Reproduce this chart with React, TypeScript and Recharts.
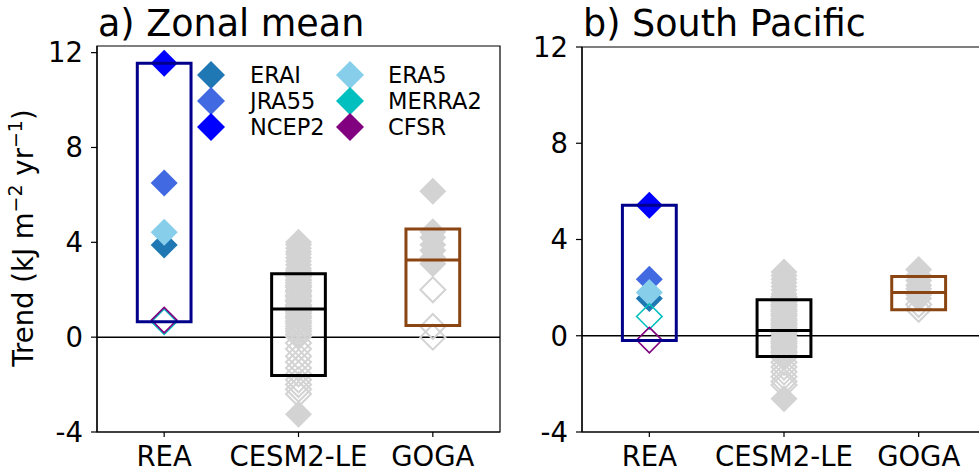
import React from "react";
import { ComposedChart, Scatter, XAxis, YAxis, ReferenceArea, ReferenceLine, Legend } from "recharts";

const FONT = "'DejaVu Sans', sans-serif";

const categories = ["REA", "CESM2-LE", "GOGA"];
const yTicks = [-4, 0, 4, 8, 12];

const reaNames = ["ERAI", "JRA55", "NCEP2", "ERA5", "MERRA2", "CFSR"];
const reaColors = ["#1f77b4", "#4169e1", "#0000ff", "#87ceeb", "#00bfbf", "#800080"];

// a) Zonal mean
const reaZonal = [3.89, 6.5, 11.55, 4.42, 0.65, 0.72];
const reaZonalSig = [true, true, true, true, false, false];
const cesmZonalFilled = [4.0, 3.9, 3.75, 3.6, 3.5, 3.35, 3.2, 3.05, 2.9, 2.8, -3.25];
const cesmZonalHollow = [
  2.72, 2.6, 2.55, 2.41, 2.3, 2.18, 2.1, 1.98, 1.9, 1.77, 1.7, 1.58, 1.5, 1.37, 1.28, 1.2, 1.08,
  1.0, 0.88, 0.8, 0.67, 0.58, 0.46, 0.35, 0.25, 0.12, 0.03, -0.25, -0.5, -0.8, -1.05, -1.3,
  -1.55, -1.8, -2.0, -2.2, -2.4,
];
const gogaZonalFilled = [6.15, 4.45, 4.2, 3.9, 3.65, 3.35, 3.1];
const gogaZonalHollow = [2.0, 0.45, 0.0];
const boxLowZonal = [0.65, -1.62, 0.49];
const boxHighZonal = [11.55, 2.67, 4.56];
const boxMidZonal = [null, 1.19, 3.25];

// b) South Pacific
const reaPacific = [1.55, 2.35, 5.42, 1.8, 0.8, -0.18];
const reaPacificSig = [true, true, true, true, false, false];
const cesmPacificFilled = [2.65, 2.5, 2.35, 2.2, 2.05, 1.9, 1.75, -2.62];
const cesmPacificHollow = [
  1.62, 1.5, 1.41, 1.3, 1.22, 1.1, 1.02, 0.9, 0.83, 0.71, 0.63, 0.52, 0.44, 0.33, 0.25, 0.14,
  0.06, -0.05, -0.13, -0.24, -0.32, -0.43, -0.51, -0.62, -0.7, -0.81, -0.9, -1.1, -1.3, -1.5,
  -1.7, -1.9, -2.05,
];
const gogaPacificFilled = [2.75, 2.5, 2.3, 2.1, 1.95, 1.8, 1.7, 1.55];
const gogaPacificHollow = [1.3, 1.1];
const boxLowPacific = [-0.2, -0.86, 1.08];
const boxHighPacific = [5.42, 1.5, 2.46];
const boxMidPacific = [null, 0.22, 1.8];

const boxColors = ["#00008b", "#000000", "#8b4513"];
const GRAY = "#d3d3d3";
const HALF = 0.2;
const TICK_FONT = 27.5;

const diamond = (color: string, filled: boolean, r = 13.5, sw = 1.6) => (props: any) => {
  const { cx, cy } = props;
  if (cx == null || cy == null) return <g />;
  const rr = filled ? r : r - sw / 2;
  return (
    <path
      d={`M${cx},${cy - rr}L${cx + rr},${cy}L${cx},${cy + rr}L${cx - rr},${cy}Z`}
      fill={filled ? color : "none"}
      stroke={filled ? "none" : color}
      strokeWidth={sw}
    />
  );
};

function LegendBox() {
  const rows = [20, 46, 72];
  return (
    <svg width={300} height={92} style={{ display: "block", overflow: "visible" }}>
      {reaNames.map((name, i) => {
        const col = Math.floor(i / 3);
        const cx = col === 0 ? 21 : 160;
        const tx = col === 0 ? 60 : 198;
        const cy = rows[i % 3];
        return (
          <g key={name}>
            <path d={`M${cx},${cy - 14}L${cx + 14},${cy}L${cx},${cy + 14}L${cx - 14},${cy}Z`} fill={reaColors[i]} />
            <text x={tx} y={cy + 8} fontSize={22.5} fontFamily={FONT} fill="#000">
              {name}
            </text>
          </g>
        );
      })}
    </svg>
  );
}

type PanelProps = {
  title: string;
  yMax: number;
  rea: number[];
  reaSig: boolean[];
  cesmFilled: number[];
  cesmHollow: number[];
  gogaFilled: number[];
  gogaHollow: number[];
  boxLow: number[];
  boxHigh: number[];
  boxMid: (number | null)[];
  left: number;
  width: number;
  marginLeft: number;
  marginRight: number;
  marginTop: number;
  first: boolean;
};

function Panel(p: PanelProps) {
  const hollow = [
    ...p.cesmHollow.map((v) => ({ x: 2, y: v })),
    ...p.gogaHollow.map((v) => ({ x: 3, y: v })),
  ];
  const filled = [
    ...p.cesmFilled.map((v) => ({ x: 2, y: v })),
    ...p.gogaFilled.map((v) => ({ x: 3, y: v })),
  ];
  const plotLeft = p.marginLeft + 60;
  return (
    <div style={{ position: "absolute", left: p.left, top: 0 }}>
      <ComposedChart
        width={p.width}
        height={472}
        margin={{ top: p.marginTop, right: p.marginRight, bottom: 10, left: p.marginLeft }}
      >
        <XAxis
          type="number"
          dataKey="x"
          domain={[0.5, 3.5]}
          ticks={[1, 2, 3]}
          allowDataOverflow
          tickFormatter={(v: number) => categories[v - 1]}
          tick={{ fontSize: TICK_FONT, fill: "#000", fontFamily: FONT }}
          tickSize={5}
          tickMargin={9}
          height={30}
          axisLine={{ stroke: "#000", strokeWidth: 1.2 }}
          tickLine={{ stroke: "#000", strokeWidth: 1.2 }}
        />
        <YAxis
          type="number"
          dataKey="y"
          domain={[-4, p.yMax]}
          ticks={yTicks}
          allowDataOverflow
          width={60}
          tick={{ fontSize: TICK_FONT, fill: "#000", fontFamily: FONT }}
          tickSize={6}
          tickMargin={8}
          axisLine={{ stroke: "#000", strokeWidth: 1.2 }}
          tickLine={{ stroke: "#000", strokeWidth: 1.2 }}
        />
        <ReferenceArea x1={0.5} x2={3.5} y1={-4} y2={p.yMax} fill="none" stroke="#000" strokeWidth={1.2} />
        <ReferenceLine y={0} stroke="#000" strokeWidth={1.5} />
        <Scatter data={hollow} shape={diamond(GRAY, false, 13.5, 2)} isAnimationActive={false} />
        <Scatter data={filled} shape={diamond(GRAY, true)} isAnimationActive={false} />
        {p.rea.map((v, i) => (
          <Scatter
            key={reaNames[i]}
            name={reaNames[i]}
            data={[{ x: 1, y: v }]}
            shape={diamond(reaColors[i], p.reaSig[i])}
            isAnimationActive={false}
          />
        ))}
        {categories.map((c, i) => (
          <ReferenceArea
            key={c}
            x1={i + 1 - HALF}
            x2={i + 1 + HALF}
            y1={p.boxLow[i]}
            y2={p.boxHigh[i]}
            fill="none"
            fillOpacity={0}
            stroke={boxColors[i]}
            strokeWidth={3}
            zIndex={900}
          />
        ))}
        {categories.map((c, i) =>
          p.boxMid[i] == null ? null : (
            <ReferenceLine
              key={c + "mid"}
              segment={[
                { x: i + 1 - HALF, y: p.boxMid[i] as number },
                { x: i + 1 + HALF, y: p.boxMid[i] as number },
              ]}
              stroke={boxColors[i]}
              strokeWidth={3}
              zIndex={900}
            />
          )
        )}
        {p.first && (
          <Legend
            layout="vertical"
            align="center"
            verticalAlign="middle"
            wrapperStyle={{ left: 190, top: 55, width: 300, height: 92 }}
            content={() => <LegendBox />}
          />
        )}
        <text x={plotLeft + 1} y={36} fontSize={36.5} fontFamily={FONT} fill="#000">
          {p.title}
        </text>
        {p.first && (
          <text
            x={33}
            y={238}
            transform="rotate(-90, 33, 238)"
            textAnchor="middle"
            fontSize={27.5}
            fontFamily={FONT}
            fill="#000"
          >
            Trend (kJ m
            <tspan fontSize={19} dy={-11}>
              −2
            </tspan>
            <tspan dy={11}> yr</tspan>
            <tspan fontSize={19} dy={-11}>
              −1
            </tspan>
            <tspan dy={11}>)</tspan>
          </text>
        )}
      </ComposedChart>
    </div>
  );
}

export default function App() {
  return (
    <div
      style={{
        position: "absolute",
        left: 0,
        top: 0,
        width: 979,
        height: 472,
        overflow: "hidden",
        background: "#fff",
      }}
    >
      <Panel
        title="a) Zonal mean"
        yMax={12.28}
        rea={reaZonal}
        reaSig={reaZonalSig}
        cesmFilled={cesmZonalFilled}
        cesmHollow={cesmZonalHollow}
        gogaFilled={gogaZonalFilled}
        gogaHollow={gogaZonalHollow}
        boxLow={boxLowZonal}
        boxHigh={boxHighZonal}
        boxMid={boxMidZonal}
        left={0}
        width={502}
        marginLeft={37}
        marginRight={2}
        marginTop={46}
        first
      />
      <Panel
        title="b) South Pacific"
        yMax={12}
        rea={reaPacific}
        reaSig={reaPacificSig}
        cesmFilled={cesmPacificFilled}
        cesmHollow={cesmPacificHollow}
        gogaFilled={gogaPacificFilled}
        gogaHollow={gogaPacificHollow}
        boxLow={boxLowPacific}
        boxHigh={boxHighPacific}
        boxMid={boxMidPacific}
        left={500}
        width={495}
        marginLeft={22}
        marginRight={9}
        marginTop={47}
        first={false}
      />
    </div>
  );
}
